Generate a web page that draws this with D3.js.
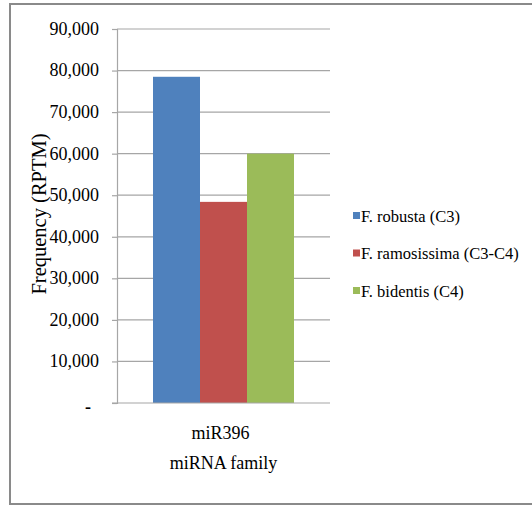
<!DOCTYPE html>
<html>
<head>
<meta charset="utf-8">
<script src="https://cdn.jsdelivr.net/npm/d3@7"></script>
<style>
body { margin: 0; background: #fff; }
svg text { font-family: "Liberation Serif", "Times New Roman", serif; fill: #000; }
</style>
</head>
<body>
<script>
const w = 532
const h = 506
const serif = "Liberation Serif, Times New Roman, serif"

// data
const categories = ["miR396"]
const seriesNames = ["F. robusta (C3)", "F. ramosissima (C3-C4)", "F. bidentis (C4)"]
const seriesValues = [78500, 48400, 60000]
const colors = ["#4F81BD", "#C0504D", "#9BBB59"]
const yTicks = [0, 10000, 20000, 30000, 40000, 50000, 60000, 70000, 80000, 90000]

const margin = {left: 117, right: 202, top: 29, bottom: 103}

const svg = d3.select("body").append("svg")
	.attr("width", w)
	.attr("height", h)

// outer frame
svg.append("rect")
	.attr("x", 10)
	.attr("y", 4)
	.attr("width", 540)
	.attr("height", 500)
	.attr("fill", "#fff")
	.attr("stroke", "#8a8a8a")
	.attr("stroke-width", 2)

let xScale = d3.scaleBand()
	.domain(categories)
	.range([margin.left, w - margin.right])

let xSub = d3.scaleBand()
	.domain(seriesNames)
	.range([0, xScale.bandwidth()])
	.paddingOuter(0.766)

let yScale = d3.scaleLinear()
	.domain([0, 90000])
	.range([h - margin.bottom, margin.top])

// gridlines
svg.append("g")
	.selectAll("line")
	.data(yTicks.slice(1))
	.enter()
	.append("line")
	.attr("x1", margin.left)
	.attr("x2", w - margin.right)
	.attr("y1", d => yScale(d))
	.attr("y2", d => yScale(d))
	.attr("stroke", "#a6a6a6")
	.attr("stroke-width", 1.2)

// bars
svg.append("g")
	.selectAll("rect")
	.data(seriesValues)
	.enter()
	.append("rect")
	.attr("x", (d, i) => xScale(categories[0]) + xSub(seriesNames[i]))
	.attr("y", d => yScale(d))
	.attr("width", xSub.bandwidth())
	.attr("height", d => yScale(0) - yScale(d))
	.attr("fill", (d, i) => colors[i])

// y axis
let yAxis = d3.axisLeft(yScale)
	.tickValues(yTicks)
	.tickSize(5)
	.tickPadding(13)
	.tickFormat(d => d === 0 ? "-" : d3.format(",")(d))

let gy = svg.append("g")
	.attr("transform", "translate(" + margin.left + ",0)")
	.call(yAxis)
	.attr("font-family", serif)
gy.select(".domain").attr("stroke", "#a6a6a6").attr("stroke-width", 1.2)
gy.selectAll(".tick line").attr("stroke", "#a6a6a6").attr("stroke-width", 1.2)
gy.selectAll(".tick text")
	.attr("font-family", serif)
	.attr("font-size", 18)
	.attr("dy", "0.3em")
gy.selectAll(".tick text").filter(d => d === 0)
	.attr("dx", -8)
	.attr("dy", "0.55em")
	.attr("font-weight", "bold")

// x axis baseline
svg.append("line")
	.attr("x1", margin.left - 5)
	.attr("x2", w - margin.right)
	.attr("y1", yScale(0))
	.attr("y2", yScale(0))
	.attr("stroke", "#a6a6a6")
	.attr("stroke-width", 1.2)

// category label and axis title
svg.append("text")
	.attr("x", xScale(categories[0]) + xScale.bandwidth() / 2 - 3)
	.attr("y", 439)
	.attr("text-anchor", "middle")
	.attr("font-family", serif)
	.attr("font-size", 18)
	.text(categories[0])

svg.append("text")
	.attr("x", xScale(categories[0]) + xScale.bandwidth() / 2)
	.attr("y", 469)
	.attr("text-anchor", "middle")
	.attr("font-family", serif)
	.attr("font-size", 18)
	.text("miRNA family")

svg.append("text")
	.attr("transform", "translate(46,214) rotate(-90)")
	.attr("text-anchor", "middle")
	.attr("font-family", serif)
	.attr("font-size", 20.5)
	.text("Frequency (RPTM)")

// legend
let legend = svg.append("g")
	.selectAll("g")
	.data(seriesNames)
	.enter()
	.append("g")
	.attr("transform", (d, i) => "translate(353," + (216 + i * 37.5) + ")")

legend.append("rect")
	.attr("x", 0)
	.attr("y", -4)
	.attr("width", 7)
	.attr("height", 7)
	.attr("fill", (d, i) => colors[i])

legend.append("text")
	.attr("x", 8)
	.attr("y", 0)
	.attr("dy", "0.35em")
	.attr("font-family", serif)
	.attr("font-size", 16.5)
	.text(d => d)
</script>
</body>
</html>
